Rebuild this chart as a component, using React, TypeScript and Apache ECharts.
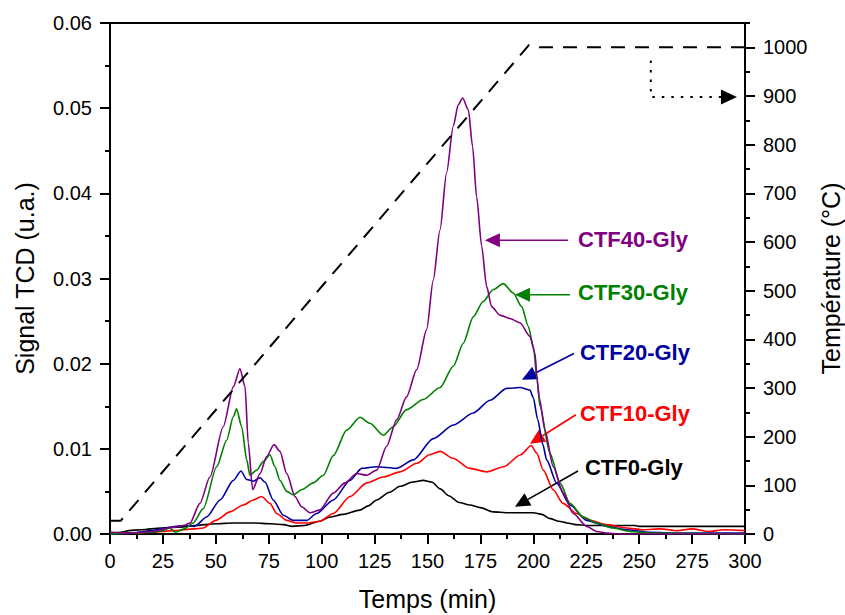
import React, { useEffect, useRef } from 'react';
import * as echarts from 'echarts';

const FONT = '"Liberation Sans", Arial, Helvetica, sans-serif';

// Time (min) vs TCD signal (u.a.)
const ctf0: [number, number][] = [
  [0, 0], [5, 0.0002], [9, 0.0004], [15, 0.0005], [24, 0.0007], [32, 0.0008], [40, 0.001], [50, 0.0012],
  [58, 0.0013], [68, 0.0013], [76, 0.0012], [82, 0.0011], [86, 0.0009], [92, 0.001], [99, 0.0015],
  [104, 0.002], [110, 0.0023], [118, 0.0028], [122, 0.0033], [126, 0.004], [132, 0.0049], [137, 0.0056],
  [143, 0.0061], [148, 0.0063], [152, 0.0061], [156, 0.0053], [160, 0.0045], [165, 0.0037], [170, 0.0034],
  [175, 0.0031], [181, 0.0026], [188, 0.0025], [194, 0.0025], [200, 0.0025], [204, 0.0023], [208, 0.0018],
  [212, 0.0015], [216, 0.0013], [220, 0.0011], [225, 0.001], [248, 0.001], [250, 0.0009], [300, 0.0009],
];

const ctf10: [number, number][] = [
  [0, 0], [10, 0.0001], [20, 0.0002], [30, 0.0004], [40, 0.0006], [44, 0.0007], [50, 0.0016], [56.7, 0.0026],
  [63, 0.0034], [67.7, 0.004], [71.6, 0.0044], [75.6, 0.0036], [78.7, 0.0024], [83.5, 0.0016], [88, 0.0013],
  [94, 0.0013], [99, 0.0015], [105.5, 0.0024], [113.4, 0.0044], [121.3, 0.006], [129, 0.0067], [137, 0.0073],
  [145, 0.0083], [151, 0.0093], [156, 0.0097], [162, 0.0089], [170, 0.0077], [178, 0.0073], [186, 0.0079],
  [194, 0.0093], [199, 0.0104], [201.6, 0.0095], [204.7, 0.0075], [209.4, 0.0052], [214, 0.0036],
  [220.5, 0.0024], [226.7, 0.0016], [234.6, 0.0011], [244, 0.0007], [252, 0.0005], [260, 0.0006],
  [268, 0.0004], [275, 0.0006], [283, 0.0003], [290, 0.0005], [300, 0.0004],
];

const ctf20: [number, number][] = [
  [0, 0], [10, 0.0001], [20, 0.0004], [28, 0.0008], [35, 0.001], [40, 0.0009], [45.7, 0.002], [52, 0.004],
  [58.3, 0.0063], [61.9, 0.0074], [64.6, 0.0064], [67.7, 0.0062], [70.9, 0.0066], [73.2, 0.0061],
  [77.1, 0.004], [81.9, 0.0022], [86.6, 0.0016], [92.9, 0.0016], [97.6, 0.0024], [105.5, 0.004],
  [113.4, 0.0063], [118.9, 0.0077], [126, 0.0079], [135.4, 0.0077], [143.3, 0.0087], [152.7, 0.0112],
  [162.2, 0.0128], [171.6, 0.0142], [179.5, 0.0157], [187.4, 0.0171], [193.7, 0.0172], [198.4, 0.0169],
  [200, 0.016], [202, 0.0135], [204.5, 0.0105], [206.3, 0.0087], [211, 0.006], [217.3, 0.0034],
  [225.2, 0.0016], [234.6, 0.0009], [244, 0.0005], [255, 0.0002], [270, 0.0001], [300, 0.0001],
];

const ctf30: [number, number][] = [
  [0, 0], [10, 0.0001], [20, 0.0002], [25, 0.0004], [28, 0.0007], [31, 0.0002], [35, 0.0006],
  [39.3, 0.0013], [44.1, 0.003], [50.4, 0.0079], [55.1, 0.011], [58.3, 0.0138], [59.8, 0.0147],
  [62.2, 0.0126], [64.6, 0.0087], [66.1, 0.0069], [69.3, 0.0075], [72.4, 0.0085], [75.6, 0.0093],
  [77.9, 0.0079], [80.3, 0.0063], [83.5, 0.005], [86.6, 0.0046], [90.5, 0.0052], [96, 0.006],
  [100.8, 0.0069], [105.5, 0.0092], [111.8, 0.0122], [118.1, 0.0137], [122.8, 0.013], [129.1, 0.0116],
  [133.8, 0.0126], [140.1, 0.0146], [148, 0.0158], [155.9, 0.0172], [162.2, 0.0197], [166.9, 0.0224],
  [171.6, 0.0255], [176.3, 0.0273], [181.1, 0.0287], [185.8, 0.0294], [190.5, 0.0283], [194.5, 0.0267],
  [197.6, 0.0244], [200, 0.022], [201.8, 0.0181], [203.1, 0.015], [207.8, 0.0095], [212.6, 0.006],
  [217.3, 0.0036], [223.6, 0.002], [229.9, 0.0013], [237.7, 0.0007], [245.6, 0.0003], [255, 0.0001], [300, 0],
];

const ctf40: [number, number][] = [
  [0, 0.0002], [10, 0.0001], [20, 0.0003], [30, 0.0008], [35, 0.001], [37.8, 0.0013], [42.5, 0.0036],
  [47.2, 0.0067], [53.5, 0.0126], [58.3, 0.0173], [61.4, 0.0194], [63.8, 0.0173], [65.3, 0.0107],
  [67.4, 0.0052], [70.9, 0.0071], [74, 0.0091], [77.5, 0.0105], [80.3, 0.0097], [83.5, 0.0071],
  [87.4, 0.0044], [90.5, 0.0032], [94.5, 0.0025], [99, 0.0028], [105.5, 0.0048], [111, 0.006],
  [116.5, 0.0071], [121.3, 0.0069], [126, 0.0075], [130.7, 0.0103], [135.4, 0.0134], [140.1, 0.0161],
  [144.9, 0.0193], [149.6, 0.024], [152.7, 0.0298], [155.9, 0.0357], [159, 0.0424], [162.2, 0.0479],
  [164.5, 0.0504], [166.6, 0.0512], [169.3, 0.0498], [171.3, 0.0455], [173.2, 0.0396], [175.6, 0.0338],
  [177.9, 0.0291], [180.3, 0.0267], [184.2, 0.0257], [188.9, 0.0253], [193.7, 0.0248], [198.4, 0.0232],
  [200.8, 0.0212], [201.8, 0.0181], [202.8, 0.016], [205.5, 0.0122], [209.4, 0.0079], [214.1, 0.0048],
  [218.9, 0.0024], [225.2, 0.0009], [229.9, 0.0003], [235, 0.0001], [240, 0], [300, 0],
];

// Time (min) vs temperature (°C)
const temperature: [number, number][] = [
  [0, 27], [5, 27], [198, 1005], [200, 1004], [203, 1000], [300, 1000],
];

const seriesNames = ['CTF0-Gly', 'CTF10-Gly', 'CTF20-Gly', 'CTF30-Gly', 'CTF40-Gly'];
const seriesColors = ['#000000', '#FF0000', '#0000A0', '#008000', '#800080'];
const seriesData = [ctf0, ctf10, ctf20, ctf30, ctf40];

// Annotation positions, in data units (time, signal)
const labelPos: [number, number][] = [[224.4, 0.00776], [222, 0.0142], [222, 0.0213], [221.1, 0.0284], [221.1, 0.03455]];
const arrowFrom: [number, number][] = [[221.1, 0.0074], [220.1, 0.014], [219.2, 0.0212], [217.3, 0.0281], [216.4, 0.0345]];
const arrowTo: [number, number][] = [[191.3, 0.0032], [198.4, 0.0106], [194.6, 0.0181], [191.3, 0.0281], [177.1, 0.0345]];

// Dotted hold indication, in data units (time, temperature)
const holdPath: [number, number][] = [[255.5, 973], [255.5, 898], [296.2, 898]];

const tempTicks = [0, 100, 200, 300, 400, 500, 600, 700, 800, 900, 1000];
const tempMinorTicks = [50, 150, 250, 350, 450, 550, 650, 750, 850, 950, 1050];

const axisLine = { show: true, lineStyle: { color: '#000', width: 2 } };
const labelStyle = { color: '#000', fontSize: 20, fontFamily: FONT };
const nameStyle = { color: '#000', fontSize: 25, fontFamily: FONT };

export default function App() {
  const ref = useRef<HTMLDivElement>(null);
  useEffect(() => {
    document.body.style.margin = '0';
    document.body.style.overflow = 'hidden';
    if (!ref.current) return;
    const chart = echarts.init(ref.current, null, { renderer: 'svg' });
    chart.setOption({
      animation: false,
      backgroundColor: '#fff',
      grid: {
        left: 110, right: 100, top: 23, bottom: 81, show: true, borderColor: '#000', borderWidth: 2,
        containLabel: false, outerBoundsMode: 'none',
      },
      xAxis: {
        type: 'value', min: 0, max: 300, interval: 25,
        name: 'Temps (min)', nameLocation: 'middle', nameGap: 52, nameTextStyle: nameStyle,
        axisLine, axisTick: { show: true, length: 10, lineStyle: { width: 2, color: '#000' } },
        minorTick: { show: true, splitNumber: 2, length: 5, lineStyle: { width: 2, color: '#000' } },
        axisLabel: { ...labelStyle, margin: 17, formatter: (v: number) => String(v) },
        splitLine: { show: false },
      },
      yAxis: [
        {
          type: 'value', min: 0, max: 0.06, interval: 0.01, position: 'left',
          name: 'Signal TCD (u.a.)', nameLocation: 'middle', nameRotate: 90, nameGap: 73, nameTextStyle: nameStyle,
          axisLine, axisTick: { show: true, length: 10, lineStyle: { width: 2, color: '#000' } },
          minorTick: { show: true, splitNumber: 2, length: 5, lineStyle: { width: 2, color: '#000' } },
          axisLabel: { ...labelStyle, margin: 18, formatter: (v: number) => v.toFixed(2) },
          splitLine: { show: false },
        },
        {
          type: 'value', min: 0, max: 1050, position: 'right',
          name: 'Température (°C)', nameLocation: 'middle', nameRotate: 90, nameGap: 71, nameTextStyle: nameStyle,
          axisLine, axisTick: { show: true, length: 10, customValues: tempTicks, lineStyle: { width: 2, color: '#000' } },
          axisLabel: { ...labelStyle, margin: 18, customValues: tempTicks, formatter: (v: number) => String(v) },
          splitLine: { show: false },
        },
        {
          type: 'value', min: 0, max: 1050, position: 'right', offset: 0,
          axisLine: { show: false },
          axisTick: { show: true, length: 5, customValues: tempMinorTicks, lineStyle: { width: 2, color: '#000' } },
          axisLabel: { show: false },
          splitLine: { show: false },
        },
      ],
      series: [
        ...seriesData.map((d, i) => ({
          name: seriesNames[i], type: 'line', data: d, yAxisIndex: 0, showSymbol: false, symbol: 'none',
          smooth: 0.25, smoothMonotone: 'x',
          lineStyle: { color: seriesColors[i], width: 1.6 }, itemStyle: { color: seriesColors[i] }, z: 2 + i,
        })),
        {
          name: 'Température', type: 'line', data: temperature, yAxisIndex: 1, showSymbol: false, symbol: 'none',
          lineStyle: { color: '#000', width: 2, type: [14, 10] }, z: 10,
        },
      ],
    });

    const px = (t: number) => chart.convertToPixel({ xAxisIndex: 0 }, t) as number;
    const py = (v: number) => chart.convertToPixel({ yAxisIndex: 0 }, v) as number;
    const pyT = (v: number) => chart.convertToPixel({ yAxisIndex: 1 }, v) as number;

    const arrowHead = (x1: number, y1: number, x2: number, y2: number, len: number, half: number) => {
      const dx = x2 - x1, dy = y2 - y1;
      const L = Math.hypot(dx, dy) || 1;
      const ux = dx / L, uy = dy / L;
      const bx = x2 - ux * len, by = y2 - uy * len;
      return {
        base: [bx, by],
        pts: [[x2, y2], [bx - uy * half, by + ux * half], [bx + uy * half, by - ux * half]],
      };
    };

    const graphics: any[] = [];
    for (let i = 0; i < seriesNames.length; i++) {
      const c = seriesColors[i];
      const x1 = px(arrowFrom[i][0]), y1 = py(arrowFrom[i][1]);
      const x2 = px(arrowTo[i][0]), y2 = py(arrowTo[i][1]);
      const h = arrowHead(x1, y1, x2, y2, 15, 7);
      graphics.push({ type: 'line', shape: { x1, y1, x2: h.base[0], y2: h.base[1] }, style: { stroke: c, lineWidth: 1.6 } });
      graphics.push({ type: 'polygon', shape: { points: h.pts }, style: { fill: c } });
      graphics.push({
        type: 'text', x: px(labelPos[i][0]), y: py(labelPos[i][1]),
        style: { text: seriesNames[i], fill: c, font: `bold 22px ${FONT}`, verticalAlign: 'middle', align: 'left' },
      });
    }
    const hp = holdPath.map(([t, v]) => [px(t), pyT(v)]);
    const last = hp[hp.length - 1], prev = hp[hp.length - 2];
    const hh = arrowHead(prev[0], prev[1], last[0], last[1], 16, 7.5);
    graphics.push({
      type: 'polyline', shape: { points: [...hp.slice(0, -1), hh.base] },
      style: { stroke: '#000', lineWidth: 2, lineDash: [2.5, 7], fill: null },
    });
    graphics.push({ type: 'polygon', shape: { points: hh.pts }, style: { fill: '#000' } });

    chart.setOption({ graphic: graphics });
    return () => chart.dispose();
  }, []);
  return <div ref={ref} style={{ width: 845, height: 615 }} />;
}
